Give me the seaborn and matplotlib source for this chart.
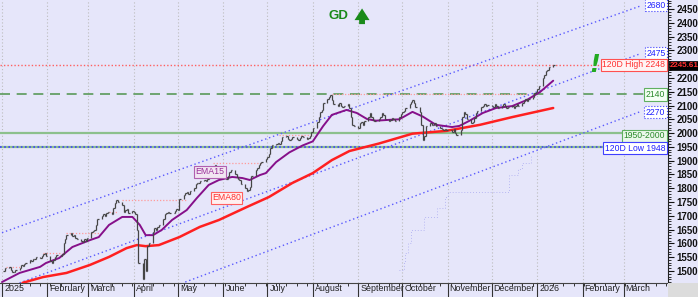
import numpy as np
import pandas as pd
import matplotlib
matplotlib.use("Agg")
import matplotlib.pyplot as plt
import matplotlib.dates as mdates
import matplotlib.transforms as mtransforms
from matplotlib.patches import Rectangle
import seaborn as sns

# ---------------- data ----------------
close_jan = [1500, 1510, 1515, 1505, 1498, 1495, 1505, 1512, 1520, 1518, 1525, 1530, 1540, 1535, 1542, 1545, 1550, 1548, 1555, 1560, 1565, 1555]
close_feb = [1535, 1528, 1540, 1550, 1558, 1555, 1562, 1600, 1615, 1630, 1638, 1628, 1632, 1620, 1615, 1610, 1605, 1615, 1610, 1620]
close_mar = [1640, 1645, 1650, 1668, 1690, 1700, 1705, 1698, 1712, 1714, 1708, 1730, 1745, 1757, 1750, 1740, 1715, 1720, 1725, 1712, 1718]
close_apr = [1715, 1705, 1650, 1530, 1470, 1545, 1500, 1590, 1600, 1640, 1655, 1650, 1660, 1665, 1690, 1705, 1712, 1715, 1710, 1712, 1718, 1725]
close_may = [1720, 1760, 1775, 1782, 1785, 1780, 1790, 1800, 1815, 1820, 1818, 1825, 1830, 1828, 1835, 1850, 1870, 1885, 1878, 1860, 1845, 1838]
close_jun = [1840, 1835, 1845, 1860, 1866, 1850, 1840, 1835, 1830, 1815, 1800, 1790, 1795, 1805, 1845, 1866, 1875, 1885, 1890, 1895, 1905]
close_jul = [1915, 1925, 1945, 1957, 1960, 1965, 1962, 1970, 1985, 1990, 1980, 1975, 1978, 1985, 1980, 1975, 1983, 1990, 1985, 1978, 1982, 1990, 2005]
close_aug = [2020, 2040, 2060, 2075, 2085, 2110, 2125, 2130, 2138, 2120, 2105, 2100, 2110, 2100, 2095, 2098, 2105, 2090, 2060, 2030, 2025]
close_sep = [2020, 2035, 2040, 2030, 2045, 2060, 2073, 2060, 2048, 2045, 2050, 2060, 2073, 2065, 2050, 2045, 2048, 2055, 2050, 2045, 2060, 2070]
close_oct = [2075, 2080, 2090, 2105, 2112, 2120, 2108, 2095, 2075, 2030, 1975, 1990, 2025, 2035, 2030, 2028, 2035, 2025, 2020, 2015, 2010, 2015, 2012]
close_nov = [2010, 2005, 2015, 2000, 1992, 2010, 2060, 2077, 2070, 2050, 2035, 2040, 2055, 2073, 2080, 2095, 2100, 2105, 2098, 2102]
close_dec = [2100, 2095, 2105, 2098, 2092, 2100, 2105, 2098, 2090, 2095, 2100, 2092, 2098, 2105, 2100, 2110, 2118, 2122, 2115, 2125, 2130, 2145, 2150]
close_jan26 = [2160, 2170, 2200, 2212, 2225, 2230, 2240, 2245.61]

ema15_dates = ["2025-01-01", "2025-01-13", "2025-01-27", "2025-01-31", "2025-02-09", "2025-02-18", "2025-03-02",
               "2025-03-08", "2025-03-15", "2025-03-24", "2025-03-31", "2025-04-05", "2025-04-09", "2025-04-14",
               "2025-04-20", "2025-04-27", "2025-05-07", "2025-05-14", "2025-05-22", "2025-05-29", "2025-06-07",
               "2025-06-14", "2025-06-19", "2025-06-26", "2025-06-30", "2025-07-07", "2025-07-16", "2025-07-25",
               "2025-08-01", "2025-08-08", "2025-08-14", "2025-08-24", "2025-08-31", "2025-09-07", "2025-09-13",
               "2025-09-22", "2025-09-29", "2025-10-08", "2025-10-15", "2025-10-24", "2025-11-04", "2025-11-09",
               "2025-11-16", "2025-11-25", "2025-12-04", "2025-12-15", "2025-12-25", "2026-01-03", "2026-01-12"]
ema15_vals = [1460, 1493, 1515, 1529, 1547, 1587, 1612, 1623, 1667, 1696, 1696, 1667, 1630, 1630,
              1649, 1685, 1721, 1765, 1812, 1830, 1841, 1837, 1830, 1848, 1855, 1895, 1930, 1955,
              1970, 2025, 2066, 2084, 2073, 2051, 2045, 2048, 2050, 2077, 2060, 2030, 2022, 2026,
              2045, 2073, 2091, 2098, 2120, 2149, 2190]

ema80_dates = ["2025-01-15", "2025-01-29", "2025-02-14", "2025-03-02", "2025-03-15", "2025-03-27", "2025-04-03",
               "2025-04-09", "2025-04-18", "2025-05-02", "2025-05-16", "2025-05-29", "2025-06-17", "2025-07-02",
               "2025-07-18", "2025-08-01", "2025-08-14", "2025-08-26", "2025-09-15", "2025-10-08", "2025-10-31",
               "2025-11-23", "2025-12-15", "2026-01-12"]
ema80_vals = [1457, 1478, 1493, 1522, 1551, 1583, 1594, 1590, 1594, 1623, 1660, 1685, 1732, 1768,
              1819, 1855, 1902, 1935, 1962, 1998, 2008, 2030, 2058, 2091]

channel_top_dates = ["2025-01-01", "2026-03-12"]
channel_top_vals = [1639, 2460]
channel_mid_dates = ["2025-01-13", "2026-03-12"]
channel_mid_vals = [1457, 2287]
channel_low_dates = ["2025-05-06", "2026-03-12"]
channel_low_vals = [1460, 2077]

stop_flat_dates = ["2025-06-19", "2025-09-29"]
stop_flat_vals = [1458, 1458]
stop_dates = ["2025-09-29", "2025-10-02", "2025-10-03", "2025-10-05", "2025-10-07", "2025-10-16", "2025-10-25",
              "2025-10-30", "2025-11-01", "2025-12-12", "2025-12-13", "2025-12-19", "2025-12-22", "2025-12-28"]
stop_vals = [1504, 1533, 1565, 1602, 1649, 1696, 1728, 1768, 1786, 1786, 1848, 1870, 1891, 1917]

res_start = ["2025-01-04", "2025-01-29", "2025-02-14", "2025-03-15", "2025-03-24", "2025-05-25", "2025-07-09", "2025-08-14"]
res_end = ["2025-01-13", "2025-02-11", "2025-03-08", "2025-03-21", "2025-05-07", "2025-06-28", "2025-08-01", "2025-12-25"]
res_level = [1515, 1565, 1638, 1714, 1757, 1891, 1993, 2140]

high120 = 2248
low120 = 1948
support_zone = [1950, 2000]
dash_level = 2140
last_price = 2245.61
channel_labels = ["2680", "2475", "2270"]
month_labels = ["2025", "February", "March", "April", "May", "June", "July", "August", "September",
                "October", "November", "December", "2026", "February", "March"]

# ---------------- style ----------------
BG = "#e6e6fa"
sns.set_theme(style="white")
plt.rcParams['font.family'] = ['Liberation Sans', 'DejaVu Sans']

fig = plt.figure(figsize=(6.98, 2.97), dpi=100, facecolor=BG)
ax = fig.add_axes([0, 14 / 297, 668 / 698, 283 / 297])
ax.set_facecolor(BG)

close = close_jan + close_feb + close_mar + close_apr + close_may + close_jun + close_jul + \
    close_aug + close_sep + close_oct + close_nov + close_dec + close_jan26
dates = pd.bdate_range("2025-01-02", periods=len(close))
c = np.array(close, dtype=float)
o = np.concatenate([[c[0]], c[:-1]])
hi = np.maximum(o, c)
lo = np.minimum(o, c)

x0 = mdates.date2num(pd.Timestamp("2025-01-01")) - 1.36
x1 = x0 + 668 / 1.466
ax.set_xlim(x0, x1)
ax.set_ylim(1456.5, 2482.6)

# horizontal levels
ax.axhline(support_zone[1], color="#8cc08c", lw=1.6, zorder=1)
ax.axhline(support_zone[0], color="#8cc08c", lw=1.6, zorder=1)
ax.axhline(low120, color="#4040ff", lw=1.2, ls=(0, (1, 1.5)), zorder=2)
ax.axhline(dash_level, color="#5a9a5a", lw=1.2, ls=(0, (6, 4)), zorder=2)
ax.axhline(high120, color="#ff6060", lw=1.0, ls=(0, (1, 1.5)), zorder=2)

# resistance segments
for s, e, lv in zip(res_start, res_end, res_level):
    ax.hlines(lv, pd.Timestamp(s), pd.Timestamp(e), color="#ff9a9a", lw=0.9, ls=(0, (1, 1.5)), zorder=2)

# channels
for d, v in [(channel_top_dates, channel_top_vals), (channel_mid_dates, channel_mid_vals),
             (channel_low_dates, channel_low_vals)]:
    sns.lineplot(x=pd.to_datetime(d), y=v, ax=ax, color="#5a5aff", lw=1.0, linestyle=(0, (1, 2)), zorder=2)

# trailing stop
sns.lineplot(x=pd.to_datetime(stop_flat_dates), y=stop_flat_vals, ax=ax, color="#a8a8f0", lw=0.7,
             linestyle=(0, (1, 1)), zorder=2)
sns.lineplot(x=pd.to_datetime(stop_dates), y=stop_vals, ax=ax, color="#a8a8f0", lw=0.6,
             linestyle=(0, (1, 2.5)), drawstyle="steps-post", zorder=2)

# EMAs
sns.lineplot(x=pd.to_datetime(ema80_dates), y=ema80_vals, ax=ax, color="#ff2020", lw=1.8, zorder=4)
sns.lineplot(x=pd.to_datetime(ema15_dates), y=ema15_vals, ax=ax, color="#86108a", lw=1.4, zorder=4)

# price bars
ax.vlines(dates, lo, hi, color="#454545", lw=0.9, zorder=5)
ax.hlines(c, dates, dates + pd.Timedelta(days=1), color="#454545", lw=0.9, zorder=5)

# axes formatting
ax.yaxis.tick_right()
yt = np.arange(1500, 2451, 50)
ax.set_yticks(yt)
ax.set_yticklabels(["" if v == 2250 else str(v) for v in yt])
ax.set_yticks(np.arange(1460, 2481, 10), minor=True)
ax.tick_params(axis="y", which="major", direction="out", length=4, width=0.8, colors="#111111",
               labelsize=7, pad=2, right=True, left=False)
ax.tick_params(axis="y", which="minor", direction="out", length=2, width=0.6, colors="#111111", right=True, left=False)
for lab in ax.get_yticklabels():
    lab.set_fontweight("bold")

month_ticks = pd.date_range("2025-01-01", "2026-03-01", freq="MS")
ax.set_xticks(month_ticks)
ax.set_xticklabels(month_labels)
ax.xaxis.set_minor_locator(mdates.WeekdayLocator(byweekday=mdates.MO))
ax.tick_params(axis="x", which="major", direction="out", length=10, width=0.8, colors="#333333",
               labelsize=6.4, pad=-9, bottom=True)
ax.tick_params(axis="x", which="minor", direction="out", length=2.5, width=0.7, colors="#333333", bottom=True)
offset = mtransforms.ScaledTranslation(1.5 / 72, 0, fig.dpi_scale_trans)
for lab in ax.get_xticklabels():
    lab.set_horizontalalignment("left")
    lab.set_transform(lab.get_transform() + offset)
    lab.set_color("#222222")

ax.grid(axis="x", which="major", color="#bdbdbd", ls=(0, (1, 2)), lw=0.8)
ax.set_xlabel("")
ax.set_ylabel("")
for sp in ["top", "left"]:
    ax.spines[sp].set_visible(False)
ax.spines["right"].set_color("#222222")
ax.spines["right"].set_linewidth(0.8)
ax.spines["bottom"].set_color("#444444")
ax.spines["bottom"].set_linewidth(0.8)

# labels on right side
tr = mtransforms.blended_transform_factory(ax.transAxes, ax.transData)
fs = 6.2


def boxlabel(y, s, tc, ec, fc="white", ls=":", x=0.996):
    ax.text(x, y, s, transform=tr, ha="right", va="center", fontsize=fs, color=tc, zorder=8,
            bbox=dict(boxstyle="square,pad=0.18", fc=fc, ec=ec, lw=0.8, ls=ls))


boxlabel(2463, channel_labels[0], "#2020ff", "#4040ff")
boxlabel(2290, channel_labels[1], "#2020ff", "#4040ff")
boxlabel(2076, channel_labels[2], "#2020ff", "#4040ff")
boxlabel(high120, f"120D High {high120}", "#ff3030", "#ff5050", fc="#fff4f4", ls="-")
boxlabel(dash_level, f"{dash_level}", "#2a8a2a", "#60b060", fc="#f4fff4", ls="-")
boxlabel(1990, f"{support_zone[0]}-{support_zone[1]}", "#2a8a2a", "#60b060", fc="#eaf8ea", ls="-")
boxlabel(1945, f"120D Low {low120}", "#2020ff", "#4040ff", fc="white", ls="-")

ax.text(1.003, last_price, f"{last_price:.2f}", transform=tr, ha="left", va="center", fontsize=5.8,
        color="#ff3030", fontweight="bold", clip_on=False, zorder=9,
        bbox=dict(boxstyle="square,pad=0.12", fc="black", ec="black", lw=0.5))

# EMA labels
ax.text(pd.Timestamp("2025-05-23"), 1860, "EMA15", fontsize=6.3, color="#9a309a", ha="center", va="center", zorder=8,
        bbox=dict(boxstyle="square,pad=0.15", fc="#f2e6f2", ec="#b060b0", lw=0.8))
ax.text(pd.Timestamp("2025-06-03"), 1765, "EMA80", fontsize=6.3, color="#ff3030", ha="center", va="center", zorder=8,
        bbox=dict(boxstyle="square,pad=0.15", fc="#fff0f0", ec="#ff6060", lw=0.8))

# GD signal and exclamation
ax.text(0.507, 0.943, "GD", transform=ax.transAxes, fontsize=9.5, fontweight="bold", color="#1a8a1a",
        ha="center", va="center")
ax.annotate("", xy=(0.542, 0.98), xytext=(0.542, 0.905), xycoords="axes fraction",
            arrowprops=dict(arrowstyle="simple,head_length=0.7,head_width=0.9,tail_width=0.35",
                            color="#1a8a1a", lw=0))
ax.text(0.891, 0.772, "!", transform=ax.transAxes, fontsize=17, fontweight="bold", fontstyle="italic",
        family=["DejaVu Sans"], color="#22aa22", ha="center", va="center", zorder=9)

fig.patches.append(Rectangle((668 / 698, 0), 30 / 698, 14 / 297, transform=fig.transFigure,
                             facecolor="#dcdcdc", edgecolor="none", zorder=0))

fig.savefig("out.png", dpi=100, facecolor=BG)
